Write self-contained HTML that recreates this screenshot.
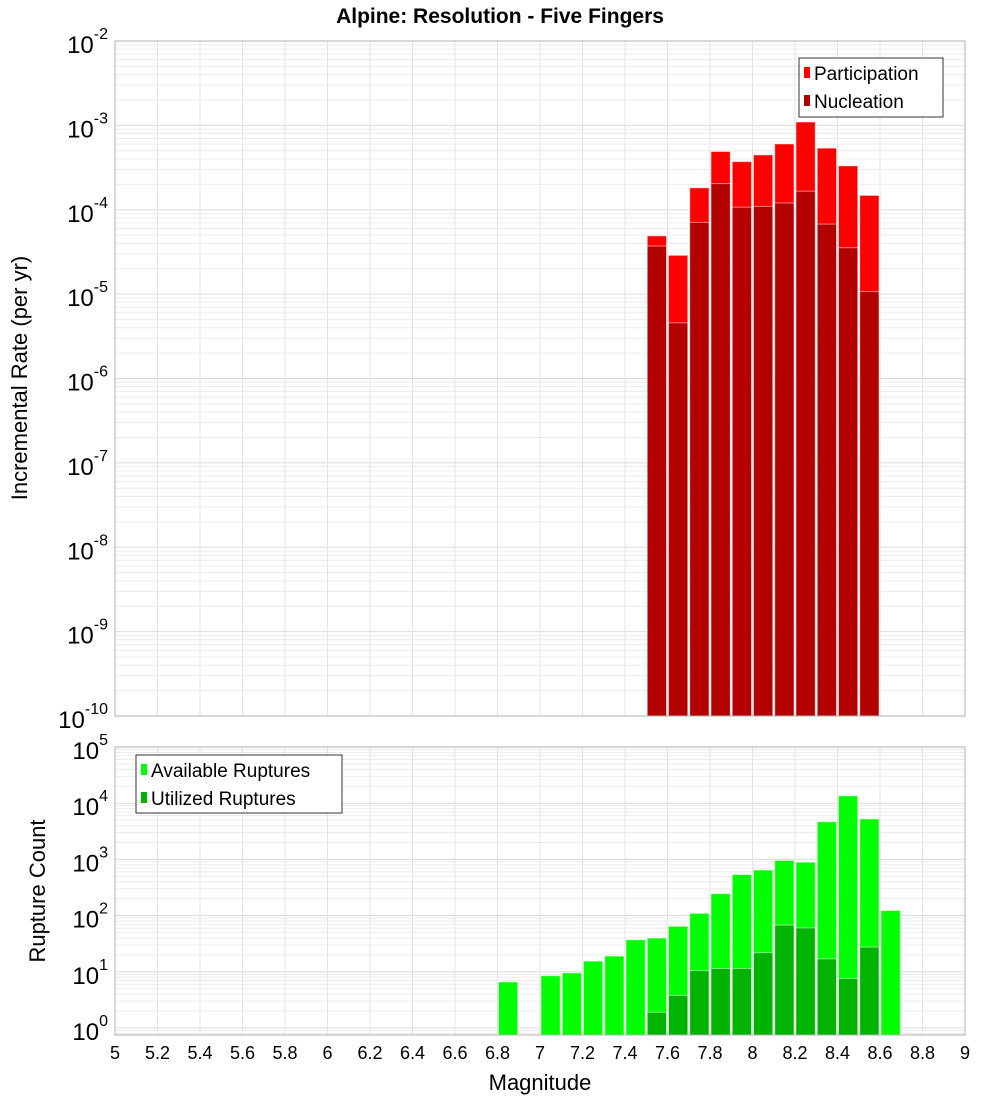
<!DOCTYPE html>
<html><head><meta charset="utf-8"><style>
body{margin:0;background:#fff;}
svg{display:block;font-family:"Liberation Sans","DejaVu Sans",sans-serif;}
</style></head><body>
<svg id="c" width="1000" height="1100" xmlns="http://www.w3.org/2000/svg"></svg>
<script>
const magCenters=[7.55,7.65,7.75,7.85,7.95,8.05,8.15,8.25,8.35,8.45,8.55];
const participationLog=[-4.31,-4.54,-3.74,-3.31,-3.43,-3.35,-3.22,-2.96,-3.27,-3.48,-3.83];
const nucleationLog=[-4.43,-5.34,-4.15,-3.69,-3.97,-3.96,-3.92,-3.78,-4.17,-4.45,-4.97];
const availMags=[6.85,7.05,7.15,7.25,7.35,7.45,7.55,7.65,7.75,7.85,7.95,8.05,8.15,8.25,8.35,8.45,8.55,8.65];
const availableLog=[0.82,0.93,0.98,1.19,1.28,1.57,1.60,1.81,2.04,2.39,2.73,2.81,2.98,2.95,3.67,4.13,3.72,2.09];
const utilMags=[7.55,7.65,7.75,7.85,7.95,8.05,8.15,8.25,8.35,8.45,8.55];
const utilizedLog=[0.28,0.58,1.02,1.06,1.06,1.34,1.83,1.78,1.23,0.88,1.44];
const xTicks=[5,5.2,5.4,5.6,5.8,6,6.2,6.4,6.6,6.8,7,7.2,7.4,7.6,7.8,8,8.2,8.4,8.6,8.8,9];
const topDecades=[-10,-9,-8,-7,-6,-5,-4,-3,-2];
const botDecades=[0,1,2,3,4,5];

const NS="http://www.w3.org/2000/svg";
const svg=document.getElementById('c');
function mk(t,a,p){const e=document.createElementNS(NS,t);for(const k in a)e.setAttribute(k,a[k]);(p||svg).appendChild(e);return e;}
const X0=115,X1=965;
const x=m=>X0+(m-5)/4*(X1-X0);
const T0=41,T1=716;
const yTop=l=>T0+(-2-l)/8*(T1-T0);
const B0=747,B1=1035,BD=56.2;
const yBot=l=>B0+(5-l)*BD;

function panel(y0,y1,decades,yf,name){
  const g=mk('g',{});
  
  
  for(const d of decades){
    for(let k=1;k<=9;k++){
      const yy=yf(d+Math.log10(k));
      if(yy<y0-0.5||yy>y1+0.5)continue;
      mk('line',{x1:X0,x2:X1,y1:yy,y2:yy,stroke:k==1?'#dcdcdc':'#ececec','stroke-width':1},g);
    }
  }
  const lowD=decades[0]-1;
  for(let k=2;k<=9;k++){const yy=yf(lowD+Math.log10(k));if(yy<=y1&&yy>=y0)mk('line',{x1:X0,x2:X1,y1:yy,y2:yy,stroke:'#ececec'},g);}
  for(const t of xTicks){mk('line',{x1:x(t),x2:x(t),y1:y0,y2:y1,stroke:'#e4e4e4'},g);}
}
panel(T0,T1,topDecades,yTop,'top');
panel(B0,B1,botDecades,yBot,'bottom');

function bars(mags,vals,yf,base,color,name){
  mags.forEach((m,i)=>{
    const l=x(m-0.05),r=x(m+0.05),yy=yf(vals[i]);
    const b=mk('rect',{x:l+1,y:yy,width:r-l-2,height:base-yy,fill:color,stroke:'#ffffff','stroke-opacity':0.5,'stroke-width':1});
    
    
  });
}
bars(magCenters,participationLog,yTop,T1,'#ff0000','participation');
bars(magCenters,nucleationLog,yTop,T1,'#b30000','nucleation');
bars(availMags,availableLog,yBot,B1,'#00ff00','available');
bars(utilMags,utilizedLog,yBot,B1,'#00b300','utilized');

mk('rect',{x:X0,y:T0,width:X1-X0,height:T1-T0,fill:'none',stroke:'#b0b0b0'});
mk('rect',{x:X0,y:B0,width:X1-X0,height:B1-B0,fill:'none',stroke:'#b0b0b0'});

function ylabels(decades,yf){
  for(const d of decades){
    const yy=yf(d);
    const t=mk('text',{x:108,y:yy+12,'text-anchor':'end','font-size':24,fill:'#000'});
    
    
    const a=mk('tspan',{},t);a.textContent='10';
    const s=mk('tspan',{dy:-14,'font-size':16},t);s.textContent=String(d);
  }
}
ylabels(topDecades,yTop);
ylabels(botDecades,yBot);
for(const t of xTicks){
  const e=mk('text',{x:x(t),y:1059,'text-anchor':'middle','font-size':18});
  
  
  e.textContent=String(t);
}
function txt(s,a,name){const e=mk('text',a);e.textContent=s;return e;}
txt('Alpine: Resolution - Five Fingers',{x:500,y:23,'text-anchor':'middle','font-size':21,'font-weight':'bold'},'chart-title');
txt('Magnitude',{x:540,y:1090,'text-anchor':'middle','font-size':22},'x-axis-title');
txt('Incremental Rate (per yr)',{x:0,y:0,'text-anchor':'middle','font-size':22,transform:'translate(27,378) rotate(-90)'},'top-y-axis-title');
txt('Rupture Count',{x:0,y:0,'text-anchor':'middle','font-size':22,transform:'translate(45,891) rotate(-90)'},'bottom-y-axis-title');

function legend(x0,y0,w,h,items,name){
  const g=mk('g',{});
  
  
  mk('rect',{x:x0,y:y0,width:w,height:h,fill:'#fff',stroke:'#333'},g);
  items.forEach((it,i)=>{
    const cy=y0+15+i*28;
    mk('rect',{x:x0+5,y:cy-6,width:6,height:11,fill:it[1]},g);
    const t=mk('text',{x:x0+15,y:cy+7,'font-size':19},g);t.textContent=it[0];
  });
}
legend(799,58,144,59,[['Participation','#ff0000'],['Nucleation','#b30000']],'top-legend');
legend(136,755,206,58,[['Available Ruptures','#00ff00'],['Utilized Ruptures','#00b300']],'bottom-legend');
</script>
</body></html>
